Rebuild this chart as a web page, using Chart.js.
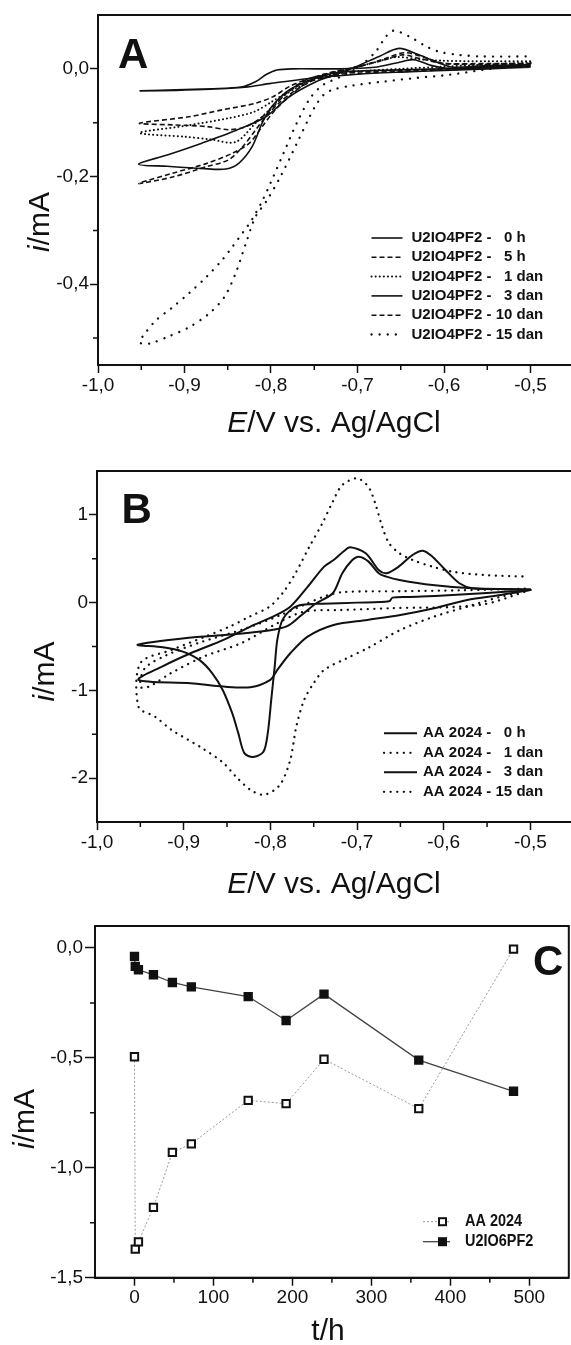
<!DOCTYPE html>
<html>
<head>
<meta charset="utf-8">
<script src="https://cdn.jsdelivr.net/npm/chart.js@4.4.1/dist/chart.umd.min.js"></script>
<style>
html, body { margin: 0; padding: 0; background: #fff; overflow: hidden; width: 571px; height: 1345px; }
canvas { position: absolute; left: 0; }
</style>
</head>
<body>
<canvas id="chartA" width="576" height="440" style="top:0px"></canvas>
<canvas id="chartB" width="576" height="461" style="top:440px"></canvas>
<canvas id="chartC" width="576" height="444" style="top:901px"></canvas>
<script>
// ---- panel A: U2IO4PF2 voltammograms, [E/V, i/mA] ----
const a0h = [[-0.5,0.003],[-0.55,0.0],[-0.6,-0.003],[-0.65,-0.006],[-0.7,-0.01],[-0.75,-0.017],[-0.8,-0.027],[-0.83,-0.034],[-0.87,-0.038],[-0.91,-0.04],[-0.952,-0.041],[-0.91,-0.039],[-0.87,-0.037],[-0.835,-0.034],[-0.818,-0.024],[-0.805,-0.01],[-0.793,-0.002],[-0.775,0.0],[-0.72,0.0],[-0.68,0.003],[-0.655,0.011],[-0.635,0.017],[-0.614,0.006],[-0.595,0.001],[-0.55,0.003],[-0.5,0.005]];
const a5h = [[-0.5,0.006],[-0.55,0.003],[-0.6,0.0],[-0.65,-0.003],[-0.7,-0.006],[-0.75,-0.015],[-0.77,-0.03],[-0.785,-0.05],[-0.8,-0.075],[-0.815,-0.095],[-0.83,-0.108],[-0.849,-0.113],[-0.875,-0.107],[-0.914,-0.104],[-0.952,-0.101],[-0.895,-0.089],[-0.856,-0.076],[-0.818,-0.064],[-0.798,-0.052],[-0.779,-0.033],[-0.76,-0.02],[-0.741,-0.011],[-0.7,0.003],[-0.67,0.018],[-0.645,0.03],[-0.62,0.02],[-0.6,0.01],[-0.55,0.008],[-0.5,0.008]];
const a1d = [[-0.5,0.012],[-0.55,0.008],[-0.6,0.004],[-0.65,0.0],[-0.7,-0.005],[-0.74,-0.015],[-0.77,-0.035],[-0.787,-0.052],[-0.802,-0.076],[-0.818,-0.101],[-0.841,-0.136],[-0.87,-0.131],[-0.9,-0.126],[-0.952,-0.119],[-0.9,-0.106],[-0.85,-0.092],[-0.82,-0.08],[-0.8,-0.062],[-0.78,-0.042],[-0.76,-0.024],[-0.74,-0.012],[-0.71,0.0],[-0.68,0.012],[-0.655,0.022],[-0.63,0.018],[-0.6,0.015],[-0.55,0.014],[-0.5,0.014]];
const a3d = [[-0.5,0.005],[-0.55,0.003],[-0.6,0.0],[-0.65,-0.002],[-0.7,-0.004],[-0.721,-0.006],[-0.748,-0.017],[-0.779,-0.039],[-0.799,-0.07],[-0.81,-0.1],[-0.822,-0.145],[-0.837,-0.175],[-0.852,-0.186],[-0.88,-0.185],[-0.92,-0.181],[-0.953,-0.177],[-0.92,-0.16],[-0.88,-0.138],[-0.84,-0.114],[-0.806,-0.089],[-0.779,-0.052],[-0.748,-0.024],[-0.721,-0.008],[-0.702,0.004],[-0.675,0.023],[-0.652,0.038],[-0.629,0.026],[-0.606,0.011],[-0.59,0.003],[-0.55,0.006],[-0.5,0.008]];
const a10d = [[-0.5,0.004],[-0.55,0.001],[-0.6,-0.002],[-0.65,-0.005],[-0.7,-0.009],[-0.748,-0.02],[-0.771,-0.039],[-0.791,-0.064],[-0.806,-0.089],[-0.818,-0.114],[-0.833,-0.145],[-0.849,-0.169],[-0.875,-0.182],[-0.914,-0.201],[-0.953,-0.213],[-0.914,-0.194],[-0.875,-0.176],[-0.845,-0.157],[-0.825,-0.138],[-0.81,-0.107],[-0.795,-0.076],[-0.779,-0.052],[-0.76,-0.027],[-0.741,-0.011],[-0.7,0.004],[-0.67,0.016],[-0.648,0.026],[-0.625,0.018],[-0.6,0.01],[-0.55,0.01],[-0.5,0.01]];
const a15d = [[-0.5,0.01],[-0.556,-0.002],[-0.594,-0.011],[-0.633,-0.017],[-0.672,-0.024],[-0.71,-0.032],[-0.729,-0.039],[-0.739,-0.048],[-0.748,-0.067],[-0.756,-0.091],[-0.77,-0.138],[-0.789,-0.2],[-0.805,-0.245],[-0.818,-0.275],[-0.829,-0.324],[-0.841,-0.38],[-0.854,-0.424],[-0.872,-0.455],[-0.895,-0.48],[-0.92,-0.498],[-0.94,-0.51],[-0.952,-0.508],[-0.945,-0.49],[-0.933,-0.467],[-0.914,-0.443],[-0.895,-0.417],[-0.875,-0.387],[-0.857,-0.356],[-0.845,-0.331],[-0.833,-0.305],[-0.822,-0.28],[-0.81,-0.245],[-0.8,-0.21],[-0.785,-0.155],[-0.77,-0.1],[-0.755,-0.055],[-0.74,-0.03],[-0.72,-0.015],[-0.698,0.004],[-0.679,0.032],[-0.667,0.06],[-0.658,0.071],[-0.64,0.06],[-0.621,0.042],[-0.606,0.032],[-0.583,0.026],[-0.556,0.023],[-0.5,0.023]];
const labelsA = ['U2IO4PF2 - \u20070 h', 'U2IO4PF2 - \u20075 h', 'U2IO4PF2 - \u20071 dan', 'U2IO4PF2 - \u20073 dan', 'U2IO4PF2 - 10 dan', 'U2IO4PF2 - 15 dan'];

// ---- panel B: AA 2024 voltammograms ----
const b0h = [[-0.5,0.145],[-0.55,0.11],[-0.6,0.08],[-0.64,0.065],[-0.659,0.057],[-0.663,0.015],[-0.7,0.0],[-0.74,-0.012],[-0.763,-0.025],[-0.774,-0.064],[-0.786,-0.197],[-0.792,-0.425],[-0.795,-0.729],[-0.799,-1.108],[-0.803,-1.487],[-0.808,-1.7],[-0.82,-1.76],[-0.83,-1.715],[-0.837,-1.487],[-0.844,-1.26],[-0.855,-0.995],[-0.867,-0.805],[-0.882,-0.653],[-0.901,-0.558],[-0.924,-0.508],[-0.953,-0.48],[-0.894,-0.4],[-0.836,-0.355],[-0.8,-0.315],[-0.78,-0.265],[-0.765,-0.15],[-0.747,-0.007],[-0.728,0.107],[-0.717,0.335],[-0.706,0.48],[-0.698,0.524],[-0.687,0.47],[-0.675,0.335],[-0.666,0.296],[-0.651,0.258],[-0.613,0.2],[-0.567,0.164],[-0.5,0.15]];
const b1d = [[-0.5,0.145],[-0.558,-0.026],[-0.662,-0.064],[-0.72,-0.085],[-0.761,-0.102],[-0.792,-0.235],[-0.834,-0.463],[-0.877,-0.615],[-0.915,-0.805],[-0.94,-0.957],[-0.95,-0.96],[-0.945,-0.75],[-0.92,-0.6],[-0.88,-0.45],[-0.83,-0.3],[-0.79,-0.15],[-0.76,-0.02],[-0.735,0.08],[-0.717,0.12],[-0.65,0.13],[-0.58,0.14],[-0.5,0.16]];
const b3d = [[-0.5,0.145],[-0.534,0.088],[-0.573,0.031],[-0.611,-0.064],[-0.65,-0.14],[-0.688,-0.197],[-0.727,-0.254],[-0.757,-0.387],[-0.777,-0.577],[-0.792,-0.767],[-0.8,-0.88],[-0.823,-0.964],[-0.854,-0.957],[-0.892,-0.918],[-0.952,-0.88],[-0.925,-0.729],[-0.892,-0.577],[-0.854,-0.425],[-0.823,-0.273],[-0.797,-0.159],[-0.777,-0.046],[-0.757,0.18],[-0.738,0.41],[-0.727,0.486],[-0.716,0.58],[-0.708,0.631],[-0.69,0.563],[-0.675,0.372],[-0.666,0.335],[-0.652,0.41],[-0.636,0.543],[-0.624,0.592],[-0.613,0.524],[-0.598,0.372],[-0.582,0.221],[-0.567,0.164],[-0.54,0.155],[-0.5,0.15]];
const b15d = [[-0.5,0.145],[-0.534,0.068],[-0.573,-0.046],[-0.611,-0.159],[-0.65,-0.311],[-0.688,-0.52],[-0.712,-0.634],[-0.738,-0.767],[-0.75,-0.918],[-0.761,-1.108],[-0.77,-1.41],[-0.777,-1.79],[-0.789,-2.077],[-0.807,-2.19],[-0.823,-2.133],[-0.84,-1.98],[-0.855,-1.82],[-0.88,-1.65],[-0.914,-1.45],[-0.933,-1.3],[-0.952,-1.19],[-0.95,-0.69],[-0.914,-0.539],[-0.875,-0.387],[-0.847,-0.273],[-0.824,-0.159],[-0.801,-0.046],[-0.786,0.107],[-0.771,0.335],[-0.755,0.638],[-0.74,0.904],[-0.728,1.15],[-0.717,1.34],[-0.7,1.417],[-0.687,1.321],[-0.679,1.131],[-0.671,0.866],[-0.663,0.676],[-0.651,0.562],[-0.636,0.486],[-0.613,0.41],[-0.59,0.353],[-0.554,0.315],[-0.504,0.296]];
const labelsB = ['AA 2024 - \u20070 h', 'AA 2024 - \u20071 dan', 'AA 2024 - \u20073 dan', 'AA 2024 - 15 dan'];

// ---- panel C: peak current vs time ----
const tC = [0, 1, 5, 24, 48, 72, 144, 192, 240, 360, 480];
const iAA = [-0.495, -1.37, -1.337, -1.18, -0.93, -0.891, -0.693, -0.708, -0.506, -0.731, -0.005];
const iU2 = [-0.038, -0.084, -0.099, -0.122, -0.157, -0.177, -0.221, -0.33, -0.21, -0.51, -0.652];
const labelsC = ['AA 2024', 'U2IO6PF2'];

// ---- ticks ----
const xTicksE = [-1.0, -0.9, -0.8, -0.7, -0.6, -0.5];
const xMinorE = [-0.95, -0.85, -0.75, -0.65, -0.55];
const yTicksA = [0.0, -0.2, -0.4];
const yMinorA = [-0.1, -0.3, -0.5];
const yTicksB = [1, 0, -1, -2];
const yMinorB = [0.5, -0.5, -1.5];
const xTicksC = [0, 100, 200, 300, 400, 500];
const xMinorC = [50, 150, 250, 350, 450];
const yTicksC = [0.0, -0.5, -1.0, -1.5];
const yMinorC = [-0.25, -0.75, -1.25];

const FONT = '"Liberation Sans", Arial, Helvetica, sans-serif';
Chart.defaults.font.family = FONT;
const INK = '#111';

const pts = arr => arr.map(p => ({ x: p[0], y: p[1] }));
const comma = v => v.toFixed(1).replace('.', ',');

const SOLID = { borderDash: [], borderWidth: 1.6 };
const DASH = { borderDash: [5, 3], borderWidth: 1.6 };
const DOT_FINE = { borderDash: [0.1, 4], borderCapStyle: 'round', borderWidth: 2 };
const DOT_WIDE = { borderDash: [0.1, 8], borderCapStyle: 'round', borderWidth: 2.3 };
const DOT_B = { borderDash: [0.1, 6.5], borderCapStyle: 'round', borderWidth: 2.3 };

function curve(label, arr, style) {
    return Object.assign({
        label: label, data: pts(arr), showLine: true, pointRadius: 0,
        borderColor: INK, backgroundColor: INK, tension: 0.3, fill: false,
    }, style);
}

function rich(ctx, parts, x, y, rot) {
    ctx.save();
    ctx.translate(x, y);
    ctx.rotate(rot);
    ctx.textAlign = 'left';
    ctx.textBaseline = 'alphabetic';
    let w = 0;
    parts.forEach(p => { ctx.font = p[1]; w += ctx.measureText(p[0]).width; });
    let cx = -w / 2;
    parts.forEach(p => {
        ctx.font = p[1];
        ctx.fillText(p[0], cx, 0);
        cx += ctx.measureText(p[0]).width;
    });
    ctx.restore();
}

// frame, minor ticks, axis titles, panel letter and legend
const deco = {
    id: 'deco',
    afterDraw(chart, args, o) {
        const ctx = chart.ctx, a = chart.chartArea;
        const sx = chart.scales.x, sy = chart.scales.y;
        ctx.save();
        ctx.strokeStyle = INK;
        ctx.fillStyle = INK;
        ctx.lineWidth = 2;
        ctx.strokeRect(a.left, a.top, a.right - a.left, a.bottom - a.top);
        ctx.lineWidth = 1.5;
        ctx.beginPath();
        o.xMinor.forEach(v => {
            const x = sx.getPixelForValue(v);
            ctx.moveTo(x, a.bottom); ctx.lineTo(x, a.bottom + 5);
        });
        o.yMinor.forEach(v => {
            const y = sy.getPixelForValue(v);
            ctx.moveTo(a.left, y); ctx.lineTo(a.left - 5, y);
        });
        ctx.stroke();

        rich(ctx, o.xTitle.parts, o.xTitle.x, o.xTitle.y, 0);
        rich(ctx, o.yTitle.parts, o.yTitle.x, o.yTitle.y, -Math.PI / 2);

        ctx.font = 'bold 42px ' + FONT;
        ctx.textAlign = 'left';
        ctx.textBaseline = 'alphabetic';
        ctx.fillText(o.letter.text, o.letter.x, o.letter.y);

        const L = o.legend;
        chart.data.datasets.forEach((ds, k) => {
            const y = L.y + k * L.dy;
            ctx.save();
            ctx.strokeStyle = ds.borderColor;
            ctx.lineWidth = ds.borderWidth;
            ctx.setLineDash(ds.borderDash || []);
            ctx.lineCap = ds.borderCapStyle || 'butt';
            ctx.beginPath();
            ctx.moveTo(L.x, y); ctx.lineTo(L.x + L.len, y);
            ctx.stroke();
            ctx.restore();
            if (L.marker) {
                const s = 7;
                ctx.save();
                ctx.fillStyle = ds.pointBackgroundColor;
                ctx.strokeStyle = ds.pointBorderColor;
                ctx.lineWidth = 2;
                ctx.fillRect(L.mx - s / 2, y - s / 2, s, s);
                ctx.strokeRect(L.mx - s / 2, y - s / 2, s, s);
                ctx.restore();
            }
            ctx.save();
            ctx.font = L.font;
            ctx.textAlign = 'left';
            ctx.textBaseline = 'middle';
            ctx.translate(L.tx, y);
            ctx.scale(L.squeeze || 1, 1);
            ctx.fillText(ds.label, 0, 0);
            ctx.restore();
        });
        ctx.restore();
    },
};

function axes(o) {
    const tickFont = { family: FONT, size: 19 };
    const border = { display: true, color: INK, width: 2 };
    return {
        x: {
            type: 'linear', min: o.xMin, max: o.xMax,
            afterFit: s => { s.height = o.xH; },
            afterBuildTicks: s => { s.ticks = o.xTicks.map(v => ({ value: v })); },
            ticks: { callback: o.xFmt, font: tickFont, color: INK, padding: 1, autoSkip: false, maxRotation: 0, minRotation: 0 },
            grid: { drawOnChartArea: false, tickLength: 8, tickColor: INK, tickWidth: 1.5 },
            border: border,
        },
        y: {
            type: 'linear', min: o.yMin, max: o.yMax,
            afterFit: s => { s.width = o.yW; },
            afterBuildTicks: s => { s.ticks = o.yTicks.map(v => ({ value: v })); },
            ticks: { callback: o.yFmt, font: tickFont, color: INK, padding: o.yPad || 1, autoSkip: false },
            grid: { drawOnChartArea: false, tickLength: o.yTick || 8, tickColor: INK, tickWidth: 1.5 },
            border: border,
        },
    };
}

function makeChart(id, datasets, scaleOpts, pad, decoOpts) {
    return new Chart(document.getElementById(id), {
        type: 'scatter',
        data: { datasets: datasets },
        options: {
            responsive: false, animation: false, events: [],
            layout: { padding: pad },
            scales: axes(scaleOpts),
            plugins: { legend: { display: false }, tooltip: { enabled: false }, deco: decoOpts },
        },
        plugins: [deco],
    });
}

const eTitle = [['E', 'italic 30px ' + FONT], ['/V vs. Ag/AgCl', '30px ' + FONT]];
const iTitle = [['i', 'italic 30px ' + FONT], ['/mA', '30px ' + FONT]];

makeChart('chartA', [
    curve(labelsA[0], a0h, SOLID),
    curve(labelsA[1], a5h, DASH),
    curve(labelsA[2], a1d, DOT_FINE),
    curve(labelsA[3], a3d, SOLID),
    curve(labelsA[4], a10d, DASH),
    curve(labelsA[5], a15d, DOT_WIDE),
], {
    xMin: -1.0, xMax: -0.45, yMin: -0.55, yMax: 0.1, xH: 75, yW: 98,
    xTicks: xTicksE, yTicks: yTicksA, xFmt: comma, yFmt: comma,
}, { top: 15, right: 2.25, left: 0, bottom: 0 }, {
    xMinor: xMinorE, yMinor: yMinorA,
    xTitle: { parts: eTitle, x: 334, y: 432 },
    yTitle: { parts: iTitle, x: 49, y: 222 },
    letter: { text: 'A', x: 118, y: 68 },
    legend: { x: 371.5, len: 31, tx: 411.5, y: 238, dy: 19.3, font: 'bold 15px ' + FONT },
});

makeChart('chartB', [
    curve(labelsB[0], b0h, { borderWidth: 2, borderDash: [] }),
    curve(labelsB[1], b1d, DOT_B),
    curve(labelsB[2], b3d, { borderWidth: 2, borderDash: [] }),
    curve(labelsB[3], b15d, DOT_B),
], {
    xMin: -1.0, xMax: -0.45, yMin: -2.5, yMax: 1.5, xH: 79, yW: 97,
    xTicks: xTicksE, yTicks: yTicksB, xFmt: comma, yFmt: v => String(v),
}, { top: 31, right: 2.25, left: 0, bottom: 0 }, {
    xMinor: xMinorE, yMinor: yMinorB,
    xTitle: { parts: eTitle, x: 334, y: 453 },
    yTitle: { parts: iTitle, x: 54, y: 231.5 },
    letter: { text: 'B', x: 121.5, y: 83 },
    legend: { x: 384, len: 33, tx: 423, y: 293.3, dy: 19.5, font: 'bold 15px ' + FONT },
});

makeChart('chartC', [
    {
        label: labelsC[0], data: tC.map((t, k) => ({ x: t, y: iAA[k] })), showLine: true,
        borderColor: '#9a9a9a', borderWidth: 1, borderDash: [2, 2], tension: 0,
        pointStyle: 'rect', pointRadius: 5.2, pointBackgroundColor: '#fff', pointBorderColor: INK, pointBorderWidth: 2,
    },
    {
        label: labelsC[1], data: tC.map((t, k) => ({ x: t, y: iU2[k] })), showLine: true,
        borderColor: '#444', borderWidth: 1.3, borderDash: [], tension: 0,
        pointStyle: 'rect', pointRadius: 5.2, pointBackgroundColor: INK, pointBorderColor: INK, pointBorderWidth: 2,
    },
], {
    xMin: -50, xMax: 550, yMin: -1.5, yMax: 0.1, xH: 67.3, yW: 95, yTick: 10, yPad: 2,
    xTicks: xTicksC, yTicks: yTicksC, xFmt: v => String(v), yFmt: comma,
}, { top: 25, right: 2.5, left: 0, bottom: 0 }, {
    xMinor: xMinorC, yMinor: yMinorC,
    xTitle: { parts: [['t/h', '30px ' + FONT]], x: 328, y: 439 },
    yTitle: { parts: iTitle, x: 34, y: 218 },
    letter: { text: 'C', x: 533, y: 74 },
    legend: { x: 423, len: 27, mx: 442.5, tx: 465, y: 320.7, dy: 20, font: 'bold 17px ' + FONT, marker: true, squeeze: 0.85 },
});
</script>
</body>
</html>
